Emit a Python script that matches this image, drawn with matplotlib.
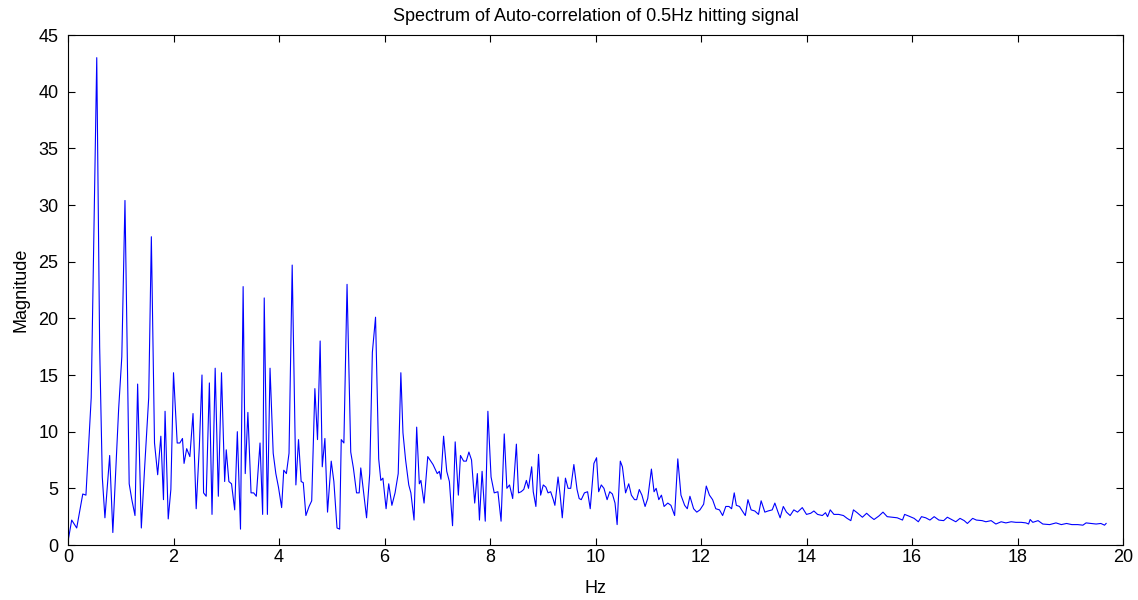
import numpy as np
import matplotlib
matplotlib.use('Agg')
import matplotlib.pyplot as plt

# frequency (Hz) and magnitude
freq = [0.00, 0.07, 0.165, 0.28, 0.34, 0.44, 0.545, 0.60, 0.65, 0.70, 0.79, 0.85, 0.96, 1.02, 1.08,
        1.16, 1.21, 1.27, 1.32, 1.39, 1.45, 1.53, 1.58, 1.64, 1.70, 1.76, 1.81, 1.84, 1.90, 1.95,
        2.00, 2.07, 2.12, 2.17, 2.20, 2.25, 2.31, 2.37, 2.43, 2.49, 2.54, 2.57, 2.62, 2.68, 2.73,
        2.79, 2.85, 2.91, 2.97, 3.00, 3.05, 3.10, 3.16, 3.21, 3.27, 3.32, 3.36, 3.41, 3.47, 3.52,
        3.57, 3.64, 3.69, 3.72, 3.78, 3.83, 3.89, 3.94, 3.99, 4.05, 4.09, 4.14, 4.19, 4.25, 4.32,
        4.37, 4.42, 4.46, 4.51, 4.57, 4.62, 4.68, 4.73, 4.78, 4.82, 4.87, 4.92, 4.99, 5.04, 5.10,
        5.15, 5.18, 5.23, 5.29, 5.36, 5.41, 5.47, 5.52, 5.55, 5.66, 5.72, 5.77, 5.83, 5.89, 5.93,
        5.97, 6.03, 6.08, 6.14, 6.20, 6.26, 6.31, 6.35, 6.40, 6.46, 6.50, 6.56, 6.61, 6.66, 6.69,
        6.75, 6.82, 6.92, 7.00, 7.04, 7.07, 7.12, 7.18, 7.23, 7.29, 7.34, 7.40, 7.44, 7.50, 7.55,
        7.60, 7.65, 7.71, 7.76, 7.80, 7.85, 7.91, 7.96, 8.02, 8.08, 8.15, 8.21, 8.27, 8.32, 8.37,
        8.43, 8.50, 8.54, 8.59, 8.64, 8.69, 8.73, 8.79, 8.82, 8.87, 8.92, 8.96, 9.01, 9.06, 9.10,
        9.15, 9.20, 9.23, 9.29, 9.33, 9.37, 9.43, 9.48, 9.53, 9.59, 9.65, 9.69, 9.73, 9.79, 9.85,
        9.90, 9.97, 10.02, 10.06, 10.11, 10.16, 10.22, 10.27, 10.32, 10.37, 10.41, 10.47, 10.51, 10.57, 10.63,
        10.68, 10.74, 10.78, 10.83, 10.88, 10.94, 10.99, 11.06, 11.11, 11.15, 11.20, 11.25, 11.30, 11.37, 11.43,
        11.50, 11.56, 11.62, 11.69, 11.74, 11.79, 11.86, 11.92, 11.98, 12.05, 12.10, 12.16, 12.22, 12.28, 12.35,
        12.41, 12.47, 12.53, 12.58, 12.63, 12.67, 12.73, 12.77, 12.84, 12.89, 12.95, 13.02, 13.09, 13.14, 13.21,
        13.27, 13.35, 13.40, 13.46, 13.50, 13.56, 13.62, 13.69, 13.76, 13.83, 13.92, 14.00, 14.08, 14.14, 14.21,
        14.30, 14.36, 14.40, 14.45, 14.52, 14.61, 14.70, 14.77, 14.84, 14.89, 14.96, 15.06, 15.14, 15.21, 15.28,
        15.37, 15.45, 15.53, 15.63, 15.72, 15.82, 15.86, 15.94, 16.04, 16.12, 16.18, 16.26, 16.34, 16.42, 16.51,
        16.60, 16.67, 16.77, 16.83, 16.91, 16.99, 17.05, 17.15, 17.22, 17.33, 17.40, 17.50, 17.59, 17.69, 17.78,
        17.88, 17.97, 18.07, 18.16, 18.21, 18.24, 18.29, 18.39, 18.48, 18.61, 18.73, 18.83, 18.93, 19.03, 19.14,
        19.24, 19.30, 19.39, 19.49, 19.58, 19.65, 19.68]

mag = [0.3, 2.2, 1.5, 4.5, 4.4, 13.0, 43.0, 17.5, 6.0, 2.4, 7.9, 1.1, 12.0, 16.6, 30.4,
       5.4, 4.0, 2.6, 14.2, 1.5, 6.6, 13.0, 27.2, 9.0, 6.2, 9.6, 4.0, 11.8, 2.3, 4.9,
       15.2, 9.0, 9.0, 9.4, 7.2, 8.5, 7.8, 11.6, 3.2, 8.7, 15.0, 4.6, 4.3, 14.3, 2.7,
       15.6, 4.3, 15.2, 5.6, 8.4, 5.6, 5.4, 3.1, 10.0, 1.4, 22.8, 6.3, 11.7, 4.6, 4.6,
       4.3, 9.0, 2.7, 21.8, 2.7, 15.6, 8.1, 6.3, 5.1, 3.3, 6.6, 6.3, 8.1, 24.7, 5.3,
       9.3, 5.6, 5.5, 2.6, 3.4, 3.9, 13.8, 9.3, 18.0, 6.9, 9.4, 2.9, 7.4, 5.6, 1.5,
       1.4, 9.3, 9.0, 23.0, 8.2, 6.8, 4.6, 4.6, 6.8, 2.4, 6.3, 17.0, 20.1, 7.6, 5.7,
       5.9, 3.2, 5.4, 3.5, 4.6, 6.3, 15.2, 9.9, 7.5, 5.3, 4.6, 2.2, 10.4, 5.4, 5.7,
       3.7, 7.8, 7.1, 6.3, 6.5, 5.8, 9.6, 6.5, 5.6, 1.7, 9.1, 4.4, 7.9, 7.4, 7.4,
       8.2, 7.5, 3.7, 6.3, 2.2, 6.5, 2.1, 11.8, 6.0, 4.6, 4.7, 2.1, 9.8, 5.0, 5.3,
       4.1, 8.9, 4.6, 4.7, 4.9, 5.7, 5.0, 6.9, 4.7, 3.4, 8.0, 4.4, 5.3, 5.1, 4.6,
       4.7, 4.0, 3.5, 6.0, 4.4, 2.4, 5.9, 5.0, 5.0, 7.1, 4.9, 4.1, 4.0, 4.6, 4.7,
       3.2, 7.2, 7.7, 4.7, 5.3, 5.0, 4.0, 4.7, 4.5, 3.7, 1.8, 7.4, 6.9, 4.6, 5.4,
       4.4, 4.0, 4.0, 4.9, 4.4, 3.4, 4.1, 6.7, 4.7, 5.0, 4.0, 4.4, 3.4, 3.7, 3.5,
       2.6, 7.6, 4.4, 3.5, 3.2, 4.3, 3.2, 2.9, 3.1, 3.6, 5.2, 4.4, 4.0, 3.2, 3.1,
       2.6, 3.4, 3.4, 3.2, 4.6, 3.5, 3.4, 3.1, 2.6, 4.0, 3.1, 3.0, 2.7, 3.9, 2.9,
       3.0, 3.1, 3.7, 2.9, 2.4, 3.4, 2.9, 2.6, 3.1, 2.9, 3.3, 2.7, 2.8, 3.0, 2.7,
       2.6, 2.85, 2.5, 3.1, 2.7, 2.7, 2.6, 2.35, 2.15, 3.1, 2.85, 2.45, 2.8, 2.5, 2.25,
       2.55, 2.9, 2.5, 2.45, 2.4, 2.2, 2.7, 2.55, 2.35, 2.05, 2.5, 2.4, 2.2, 2.5, 2.2,
       2.15, 2.45, 2.2, 2.05, 2.35, 2.15, 1.9, 2.35, 2.2, 2.15, 2.05, 2.15, 1.85, 2.05, 1.95,
       2.05, 2.0, 2.0, 1.95, 1.85, 2.25, 2.0, 2.15, 1.85, 1.8, 1.95, 1.8, 1.9, 1.8, 1.8,
       1.75, 1.95, 1.9, 1.85, 1.9, 1.75, 1.9]

xticks = np.arange(0, 21, 2)
yticks = np.arange(0, 46, 5)

plt.rcParams['font.family'] = ['Liberation Sans', 'DejaVu Sans']
plt.rcParams['font.size'] = 13

fig = plt.figure(figsize=(11.38, 6), dpi=100)
ax = fig.add_axes([68 / 1138, 55 / 600, 1055 / 1138, 510 / 600])

ax.plot(freq, mag, color='#0000ff', linewidth=0.8)

ax.set_xlim(0, 20)
ax.set_ylim(0, 45)
ax.set_xticks(xticks)
ax.set_yticks(yticks)
ax.tick_params(direction='in', top=True, right=True, length=5, width=0.8, labelsize=13)
ax.tick_params(axis='x', pad=3)
ax.tick_params(axis='y', pad=7)
for s in ax.spines.values():
    s.set_linewidth(0.8)

ax.set_title('Spectrum of Auto-correlation of 0.5Hz hitting signal', fontsize=13, pad=10)
ax.set_xlabel('Hz', fontsize=13, labelpad=10)
ax.set_ylabel('Magnitude', fontsize=13, labelpad=6)

plt.savefig('out.png', dpi=100)
